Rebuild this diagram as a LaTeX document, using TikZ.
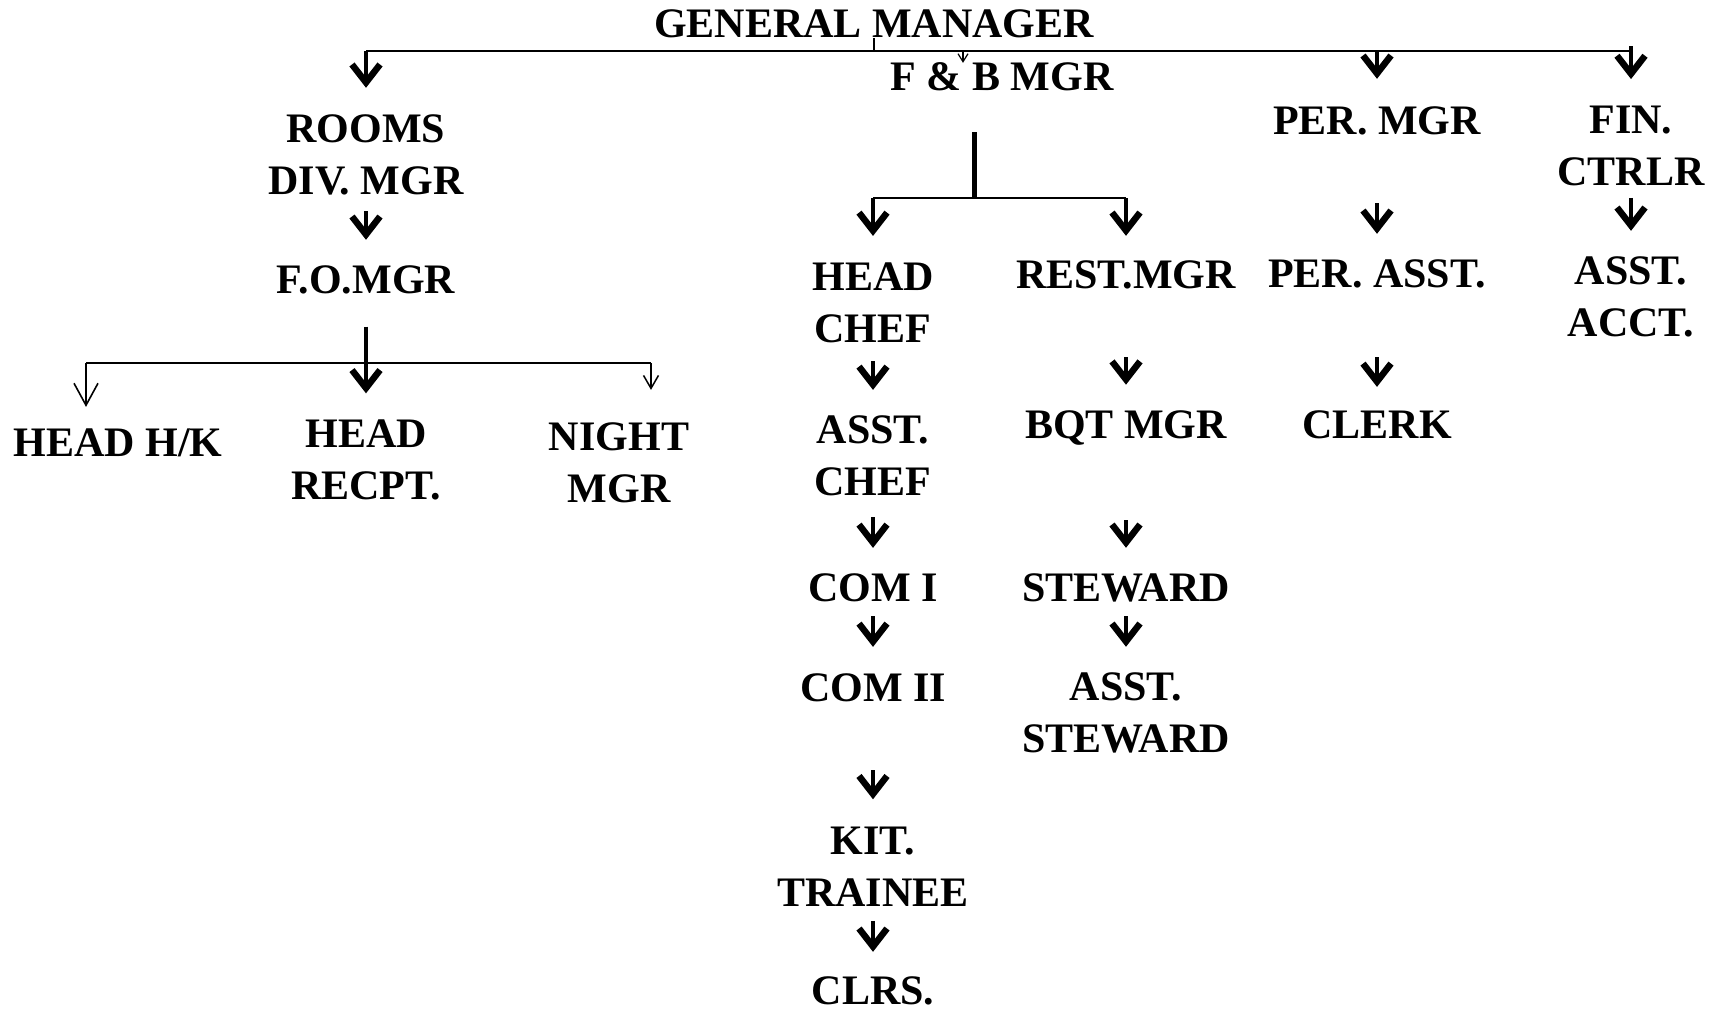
\documentclass[tikz,border=0pt]{standalone}
\usepackage{fontspec}
\setmainfont{Liberation Serif}
\usetikzlibrary{arrows.meta}
\begin{document}
\begin{tikzpicture}[x=1pt,y=-1pt,
  lbl/.style={font=\bfseries\fontsize{42}{52}\selectfont, align=center, inner sep=0pt, outer sep=0pt},
  bus/.style={line width=2.5pt},
  trunk/.style={line width=5pt},
  arr/.style={line width=4pt, -{Straight Barb[length=18pt,width=28pt,line width=6.5pt]}},
  oarr/.style={line width=1.6pt, -{Straight Barb[length=22pt,width=24pt,line width=1.6pt]}},
  sarr/.style={line width=1.5pt, -{Straight Barb[length=13pt,width=15pt,line width=1.5pt]}},
  tarr/.style={line width=1.2pt, -{Straight Barb[length=8pt,width=10pt,line width=1.2pt]}},
  gap/.style 2 args={shorten <=#1pt, shorten >=#2pt}
]
\useasboundingbox[fill=white] (0,0) rectangle (1724,1013);

% nodes
\node[lbl] (gm) at (874,24) {GENERAL MANAGER};
\node[lbl] (fb) at (1002,77) {F \& B MGR};
\node[lbl] (rd) at (366,154.5) {ROOMS\\DIV. MGR};
\node[lbl] (fo) at (366,280) {F.O.MGR};
\node[lbl] (hk) at (118,443) {HEAD H/K};
\node[lbl] (hr) at (366,460) {HEAD\\RECPT.};
\node[lbl] (nm) at (619,463) {NIGHT\\MGR};
\node[lbl] (hc) at (873,303) {HEAD\\CHEF};
\node[lbl] (ac) at (873,456) {ASST.\\CHEF};
\node[lbl] (c1) at (873,588) {COM I};
\node[lbl] (c2) at (873,688) {COM II};
\node[lbl] (kt) at (873,867) {KIT.\\TRAINEE};
\node[lbl] (cl) at (873,991) {CLRS.};
\node[lbl] (rm) at (1126,275) {REST.MGR};
\node[lbl] (bq) at (1126,428) {BQT MGR};
\node[lbl] (st) at (1126,588) {STEWARD};
\node[lbl] (as) at (1126,713) {ASST.\\STEWARD};
\node[lbl] (pm) at (1377,121) {PER. MGR};
\node[lbl] (pa) at (1377,274) {PER. ASST.};
\node[lbl] (ck) at (1377,425) {CLERK};
\node[lbl] (fc) at (1631,146) {FIN.\\CTRLR};
\node[lbl] (aa) at (1631,297) {ASST.\\ACCT.};

% top bus
\coordinate (tl) at (366,51);
\coordinate (tr) at (1631,51);
\coordinate (fbin) at (963,51);
\draw[bus] (tl) -- (tr);
\draw[bus] (gm.south) -- (gm.south |- tl);
\draw[arr, gap={0}{26.5}] (tl) -- (rd);
\draw[tarr] (fbin) -- (fbin |- fb.north);
\draw[arr, gap={0}{28}] (tl -| pm) -- (pm);
\draw[arr, gap={-5}{27}] (tr) -- (fc);

% rooms division
\draw[arr, gap={16.5}{26}] (rd) -- (fo);
\coordinate (fl) at (86,363);
\coordinate (fr) at (651,363);
\draw[bus] (fl) -- (fr);
\draw[arr, line width=4.5pt, gap={32.5}{26.5}] (fo) -- (hr);
\draw[oarr, gap={0}{22}] (fl) -- (fl |- hk.north);
\draw[sarr, gap={0}{33}] (fr) -- (fr |- nm.north);

% F & B division
\coordinate (bj) at (974,198);
\coordinate (bl) at (873,198);
\coordinate (br) at (1126,198);
\draw[trunk, shorten <=41pt] (fb.south -| bj) -- (bj);
\draw[bus] (bl) -- (br);
\draw[arr, gap={0}{27}] (bl) -- (hc);
\draw[arr, gap={0}{25}] (br) -- (rm);
\draw[arr, gap={18}{26}] (hc) -- (ac);
\draw[arr, gap={21}{26}] (ac) -- (c1);
\draw[arr, gap={14}{27}] (c1) -- (c2);
\draw[arr, gap={68}{28}] (c2) -- (kt);
\draw[arr, gap={14}{25}] (kt) -- (cl);
\draw[arr, gap={68}{26}] (rm) -- (bq);
\draw[arr, gap={75}{26}] (bq) -- (st);
\draw[arr, gap={14}{26}] (st) -- (as);

% personnel
\draw[arr, gap={68}{26}] (pm) -- (pa);
\draw[arr, gap={69}{24}] (pa) -- (ck);

% finance
\draw[arr, gap={12}{26}] (fc) -- (aa);
\end{tikzpicture}
\end{document}
